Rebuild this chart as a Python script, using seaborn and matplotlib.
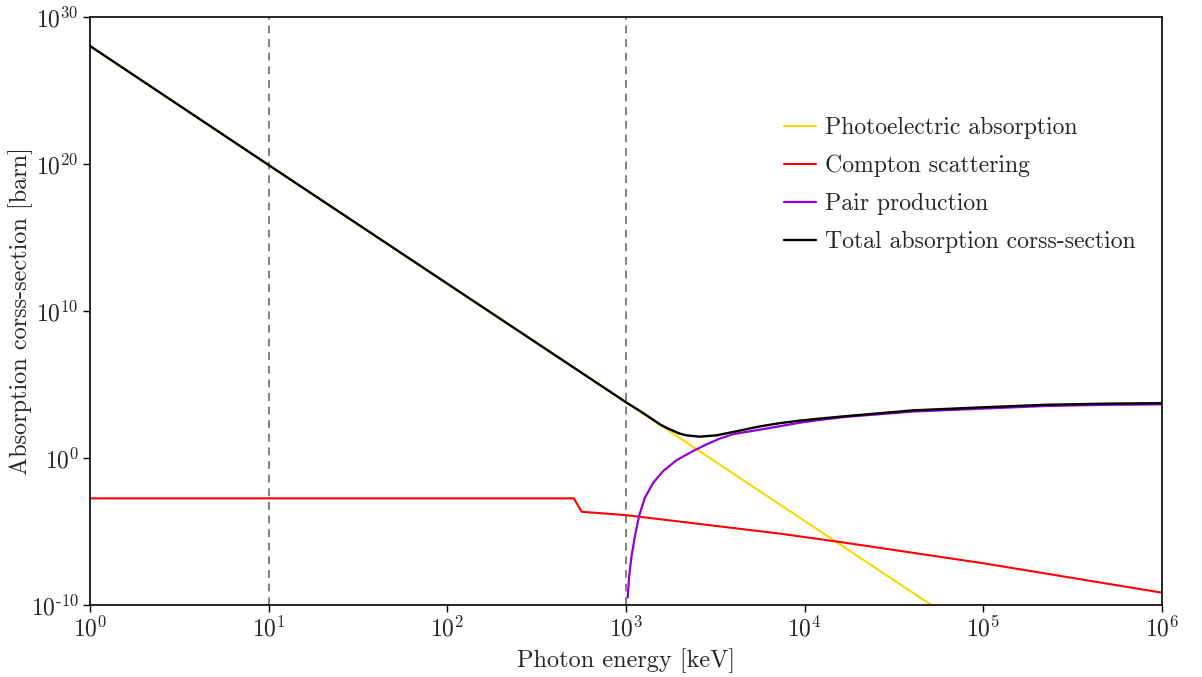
import matplotlib
matplotlib.use("Agg")
import matplotlib.pyplot as plt
import seaborn as sns
import pandas as pd
from matplotlib.ticker import NullLocator, FixedLocator, FixedFormatter

# ---- data ----
pe_energy = [1, 10, 100, 1e3, 1e4, 1e5]
pe_sigma = [1.07e28, 8.5e19, 7.2e11, 6.2e3, 5.2e-5, 4.5e-13]

compton_energy = [1, 511, 565, 1e3, 7244, 15700, 1e5, 1e6]
compton_sigma = [1.8e-3, 1.8e-3, 2.2e-4, 1.3e-4, 7.2e-6, 1.95e-6, 6.9e-8, 6.9e-10]

pair_energy = [1022, 1042, 1074, 1122, 1183, 1276, 1422, 1618, 1919, 2377, 2825,
               3350, 3972, 6095, 9376, 12130, 17100, 40270, 1e5, 2.239e5, 5.012e5, 1e6]
pair_sigma = [3.2e-10, 9.3e-9, 2.1e-7, 4.9e-6, 1.12e-4, 2.0e-3, 2.1e-2, 0.132, 0.71, 3.0, 8.5,
              20.9, 41.7, 100, 251, 389, 631, 1445, 2291, 3467, 4169, 4467]

total_energy = [1, 10, 100, 1e3, 1197, 1361, 1549, 1687, 1995, 2183, 2588, 3206,
                3972, 5610, 7244, 9376, 12130, 17100, 40270, 1e5, 2.239e5, 5.012e5, 1e6]
total_sigma = [1.07e28, 8.5e19, 7.2e11, 6.2e3, 1.58e3, 562, 195, 112, 45.7, 34.7, 28.2, 34.7,
               58.9, 141, 234, 347, 479, 708, 1738, 2818, 4169, 5012, 5370]

vlines_x = [10, 1e3]
x_ticks = [1, 10, 100, 1e3, 1e4, 1e5, 1e6]
x_ticklabels = [r"$10^{0}$", r"$10^{1}$", r"$10^{2}$", r"$10^{3}$", r"$10^{4}$",
                r"$10^{5}$", r"$10^{6}$"]
y_ticks = [1e-10, 1e0, 1e10, 1e20, 1e30]
y_ticklabels = [r"$10^{\text{-}10}$", r"$10^{0}$", r"$10^{10}$", r"$10^{20}$", r"$10^{30}$"]
labels = ["Photoelectric absorption", "Compton scattering", "Pair production",
          "Total absorption corss-section"]
colors = ["#FFD700", "#FF0000", "#9400D3", "#000000"]

sns.set_style("white")
plt.rcParams["font.family"] = ["serif"]
plt.rcParams["font.serif"] = ["cmr10"]
plt.rcParams["mathtext.fontset"] = "cm"
plt.rcParams["axes.unicode_minus"] = False
plt.rcParams["axes.formatter.use_mathtext"] = True

fig = plt.figure(figsize=(12.02, 6.77), dpi=100)
ax = fig.add_axes([90 / 1202, 1 - 605 / 677, 1072 / 1202, 588 / 677])
ax.set_xscale("log")
ax.set_yscale("log")

series = [(pe_energy, pe_sigma), (compton_energy, compton_sigma),
          (pair_energy, pair_sigma), (total_energy, total_sigma)]
lws = [1.5, 1.5, 1.6, 1.7]
for (e, s), lab, c, lw in zip(series, labels, colors, lws):
    df = pd.DataFrame({"E": e, "sigma": s})
    sns.lineplot(data=df, x="E", y="sigma", ax=ax, color=c, label=lab,
                 linewidth=lw, sort=False, estimator=None)

for xv in vlines_x:
    ax.axvline(xv, color="gray", linestyle=(0, (4, 3)), linewidth=1.4, zorder=0)

ax.set_xlim(1, 1e6)
ax.set_ylim(1e-10, 1e30)
ax.xaxis.set_major_locator(FixedLocator(x_ticks))
ax.xaxis.set_major_formatter(FixedFormatter(x_ticklabels))
ax.yaxis.set_major_locator(FixedLocator(y_ticks))
ax.yaxis.set_major_formatter(FixedFormatter(y_ticklabels))
ax.xaxis.set_minor_locator(NullLocator())
ax.yaxis.set_minor_locator(NullLocator())
ax.tick_params(axis="both", which="major", direction="out", length=5, width=1,
               labelsize=17, bottom=True, left=True, top=False, right=False, color="black",
               pad=3)
for sp in ax.spines.values():
    sp.set_color("black")
    sp.set_linewidth(1.2)

ax.set_xlabel("Photon energy [keV]", fontsize=17.5)
ax.set_ylabel("Absorption corss-section [barn]", fontsize=17.5)
ax.xaxis.set_label_coords(0.5, -0.074)
ax.yaxis.set_label_coords(-0.053, 0.5)

ax.legend(loc="upper left", bbox_to_anchor=(0.627, 0.866), frameon=False,
          fontsize=17.1, handlelength=1.35, labelspacing=0.66, handletextpad=0.4)

fig.savefig("out.png", dpi=100)
